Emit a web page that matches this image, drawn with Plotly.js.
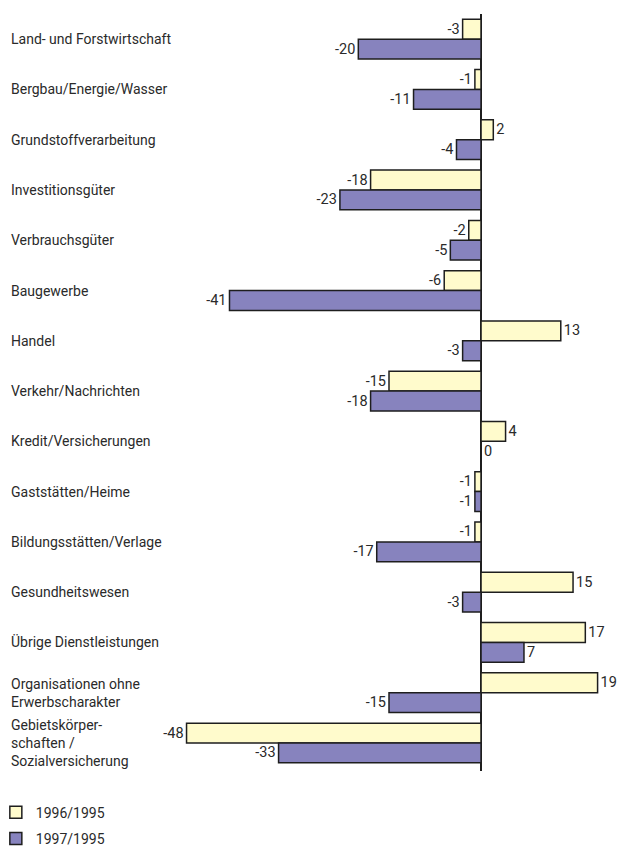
<!DOCTYPE html>
<html>
<head>
<meta charset="utf-8">
<script src="https://cdn.plot.ly/plotly-3.0.1.min.js"></script>
<style>html,body{margin:0;padding:0;background:#fff;}#chart{width:618px;height:849px;}</style>
</head>
<body>
<div id="chart"></div>
<script>
const categories = [
  "Land- und Forstwirtschaft",
  "Bergbau/Energie/Wasser",
  "Grundstoffverarbeitung",
  "Investitionsgüter",
  "Verbrauchsgüter",
  "Baugewerbe",
  "Handel",
  "Verkehr/Nachrichten",
  "Kredit/Versicherungen",
  "Gaststätten/Heime",
  "Bildungsstätten/Verlage",
  "Gesundheitswesen",
  "Übrige Dienstleistungen",
  "Organisationen ohne<br>Erwerbscharakter",
  "Gebietskörper-<br>schaften /<br>Sozialversicherung"
];
const series1996 = [-3, -1, 2, -18, -2, -6, 13, -15, 4, -1, -1, 15, 17, 19, -48];
const series1997 = [-20, -11, -4, -23, -5, -41, -3, -18, 0, -1, -17, -3, 7, -15, -33];
const seriesNames = ["1996/1995", "1997/1995"];

const FONT = 'Roboto, "Liberation Sans", sans-serif';
const TXT = '#2a2a2a';

function barTrace(name, vals, color, grp) {
  return {
    type: 'bar', orientation: 'h', name: name,
    y: categories, x: vals,
    text: vals.map(v => String(v)),
    textposition: 'outside', cliponaxis: false, constraintext: 'none',
    textfont: {family: FONT, size: 14.5, color: TXT},
    marker: {color: color, line: {color: '#1e1e1e', width: 1.5}},
    legendgroup: grp, hoverinfo: 'skip'
  };
}

const data = [
  barTrace(seriesNames[0], series1996, '#FFFBCC', 'a'),
  barTrace(seriesNames[1], series1997, '#8783BE', 'b')
];

const annotations = categories.map(c => ({
  xref: 'paper', yref: 'y', x: -0.338, y: c, text: c,
  xanchor: 'left', yanchor: 'middle', align: 'left', showarrow: false,
  font: {family: FONT, size: 14, color: TXT}
}));

const layout = {
  width: 618, height: 849,
  margin: {l: 162, r: 2, t: 14, b: 78, autoexpand: false},
  paper_bgcolor: '#fff', plot_bgcolor: '#fff',
  barmode: 'group', bargap: 0.21, bargroupgap: 0,
  font: {family: FONT, size: 14, color: TXT},
  xaxis: {range: [-52, 22], showgrid: false, showticklabels: false, ticks: '',
          zeroline: true, zerolinecolor: '#1e1e1e', zerolinewidth: 1.5, showline: false, fixedrange: true},
  yaxis: {autorange: 'reversed', showticklabels: false, showgrid: false, ticks: '', showline: false, zeroline: false, fixedrange: true},
  showlegend: true,
  legend: {orientation: 'v', x: -0.366, xanchor: 'left', y: -0.034, yanchor: 'top',
           traceorder: 'grouped', tracegroupgap: 5, itemwidth: 30,
           font: {family: FONT, size: 14, color: TXT}, bgcolor: 'rgba(0,0,0,0)'},
  annotations: annotations
};

Plotly.newPlot('chart', data, layout, {displayModeBar: false, staticPlot: true});
</script>
</body>
</html>
